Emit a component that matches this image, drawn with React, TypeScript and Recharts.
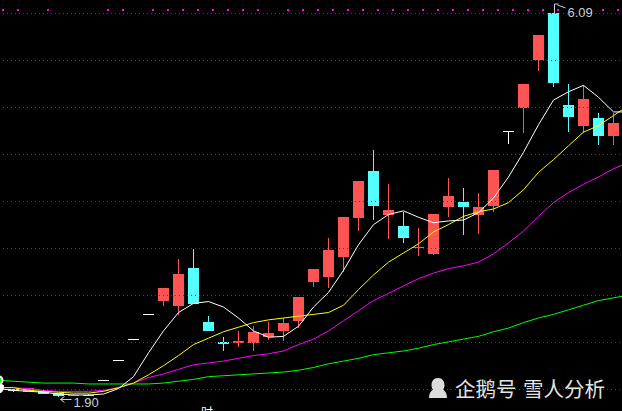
import React from 'react';
import { ComposedChart, Bar, Line, Scatter, XAxis, YAxis, ReferenceLine, ReferenceDot } from 'recharts';

const UP = '#ff5454';
const DOWN = '#54ffff';
const FLAT = '#ffffff';

// trading days, -1 is the partly hidden one at the left edge, 41 only carries the averages
const days = [-1, 0, 1, 2, 3, 4, 5, 6, 7, 8, 9, 10, 11, 12, 13, 14, 15, 16, 17, 18, 19, 20,
  21, 22, 23, 24, 25, 26, 27, 28, 29, 30, 31, 32, 33, 34, 35, 36, 37, 38, 39, 40, 41];

const opens = [2.03, 1.99, 1.95, 1.96, 1.94, 1.91, 1.92, 2.08, 2.30, 2.53, 2.80, 2.95, 2.89, 3.31,
  2.72, 2.50, 2.49, 2.49, 2.55, 2.62, 2.73, 3.15, 3.21, 3.43, 3.85, 4.37, 3.89, 3.77, 3.52, 3.46,
  3.97, 4.03, 3.89, 3.98, 4.80, 5.05, 5.58, 6.09, 5.09, 4.86, 4.94, 4.75];
const closes = [2.00, 1.96, 2.00, 1.93, 1.91, 1.92, 1.91, 2.08, 2.30, 2.53, 2.80, 3.09, 3.24, 2.91,
  2.62, 2.48, 2.51, 2.61, 2.60, 2.71, 2.99, 3.30, 3.50, 3.86, 4.26, 3.98, 3.94, 3.63, 3.54, 3.90,
  4.09, 3.97, 3.97, 4.38, 4.80, 5.32, 5.85, 5.33, 4.96, 5.15, 4.75, 4.89];
const highs = [2.03, 1.99, 2.00, 1.97, 1.94, 1.93, 1.93, 2.08, 2.30, 2.53, 2.80, 3.09, 3.40, 3.51,
  2.78, 2.55, 2.62, 2.67, 2.72, 2.76, 2.99, 3.30, 3.63, 3.86, 4.26, 4.59, 4.22, 3.92, 3.74, 3.90,
  4.29, 4.18, 4.13, 4.38, 4.80, 5.32, 5.85, 6.09, 5.32, 5.30, 5.00, 5.00];
const lows = [2.00, 1.95, 1.95, 1.93, 1.90, 1.91, 1.91, 2.08, 2.30, 2.53, 2.80, 2.89, 2.79, 2.91,
  2.62, 2.40, 2.44, 2.40, 2.52, 2.51, 2.65, 3.10, 3.09, 3.26, 3.71, 3.83, 3.62, 3.58, 3.44, 3.45,
  3.86, 3.67, 3.68, 3.92, 4.66, 4.78, 5.46, 5.28, 4.79, 4.78, 4.65, 4.65];

const ma5 = [1.99, 1.97, 1.96, 1.95, 1.93, 1.92, 1.92, 1.93, 1.99, 2.12, 2.38, 2.62, 2.82, 2.92,
  2.94, 2.88, 2.76, 2.62, 2.55, 2.56, 2.67, 2.88, 3.04, 3.28, 3.56, 3.78, 3.89, 3.93, 3.86, 3.80,
  3.82, 3.83, 3.91, 4.07, 4.30, 4.57, 4.87, 5.14, 5.23, 5.30, 5.17, 5.01, 5.01];
const ma10 = [2.00, 2.00, 1.97, 1.96, 1.95, 1.94, 1.94, 1.96, 2.00, 2.05, 2.14, 2.24, 2.35, 2.47,
  2.54, 2.61, 2.66, 2.71, 2.74, 2.76, 2.78, 2.80, 2.82, 2.90, 3.07, 3.23, 3.37, 3.47, 3.57, 3.70,
  3.78, 3.87, 3.92, 3.95, 4.02, 4.16, 4.35, 4.49, 4.64, 4.79, 4.86, 4.97, 5.08];
const ma20 = [2.00, 2.00, 1.99, 1.97, 1.96, 1.96, 1.96, 1.97, 2.00, 2.05, 2.11, 2.15, 2.20, 2.25,
  2.27, 2.29, 2.32, 2.35, 2.37, 2.40, 2.47, 2.53, 2.62, 2.73, 2.84, 2.95, 3.03, 3.11, 3.19, 3.25,
  3.30, 3.33, 3.37, 3.46, 3.58, 3.71, 3.87, 4.02, 4.13, 4.22, 4.30, 4.39, 4.46];
const ma60 = [2.08, 2.07, 2.06, 2.05, 2.05, 2.05, 2.04, 2.04, 2.04, 2.04, 2.04, 2.05, 2.07, 2.09,
  2.12, 2.13, 2.14, 2.15, 2.16, 2.17, 2.19, 2.22, 2.26, 2.29, 2.32, 2.36, 2.38, 2.40, 2.43, 2.47,
  2.50, 2.53, 2.56, 2.61, 2.65, 2.71, 2.76, 2.80, 2.85, 2.90, 2.95, 2.98, 3.01];

// days with the small magenta marker along the top
const signalDays = [-1, 0, 2, 6, 7, 9, 10, 11, 12, 13, 14, 15, 16, 18, 19, 20, 21, 22, 23, 24, 25,
  26, 27, 28, 29, 30, 31, 32, 33, 34, 35, 36, 39, 40];
const SIGNAL_LEVEL = 6.12;

const gridLevels = [6.085, 5.571, 5.058, 4.545, 4.032, 3.519, 3.006, 2.493, 1.98];
const PRICE_DOMAIN = [1.745, 6.232];

const highMark = { day: 36, price: 6.09, label: '6.09' };
const lowMark = { day: 3, price: 1.9, label: '1.90' };

const data = days.map((day, k) => ({
  day,
  open: opens[k],
  close: closes[k],
  high: highs[k],
  low: lows[k],
  range: opens[k] != null ? [lows[k], highs[k]] : null,
  ma5: ma5[k],
  ma10: ma10[k],
  ma20: ma20[k],
  ma60: ma60[k],
  signal: signalDays.includes(day) ? SIGNAL_LEVEL : null,
}));

const Candle = (props: any) => {
  const { x, y, width, height, payload } = props;
  if (!payload || payload.open == null) return null;
  const { open, close, high, low } = payload;
  const color = close > open ? UP : close < open ? DOWN : FLAT;
  const left = Math.round(x);
  const w = Math.round(width);
  const mid = left + Math.floor(w / 2);
  if (high === low || !height) {
    return <rect x={left} y={Math.round(y)} width={w} height={1} fill={color} />;
  }
  const k = height / (high - low);
  const top = Math.round(y + (high - Math.max(open, close)) * k);
  const bot = Math.round(y + (high - Math.min(open, close)) * k);
  return (
    <g>
      <rect x={mid} y={Math.round(y)} width={1} height={Math.max(1, Math.round(y + height) - Math.round(y))} fill={color} />
      <rect x={left} y={top} width={w} height={Math.max(1, bot - top)} fill={color} />
    </g>
  );
};

const SignalDot = (props: any) => {
  const { cx, cy, payload } = props;
  if (!payload || payload.signal == null || cx == null || cy == null) return null;
  return <rect x={Math.round(cx) + 3} y={Math.round(cy) - 1} width={2} height={2} fill="#ff00ff" />;
};

const markText = { fontFamily: '"Liberation Sans", Arial, sans-serif', fontSize: 13, fill: '#c8d0d8' };

const HighFlag = (props: any) => {
  const { cx, cy } = props;
  const x = Math.round(cx) + 0.5;
  return (
    <g>
      <path d={`M${x},${cy} V${cy - 9} H${x + 4} M${x + 3},${cy - 8} L${x + 11},${cy - 5}`} stroke="#c8d0d8" strokeWidth={1} fill="none" />
      <text x={x + 13} y={cy + 4} style={markText as any}>{highMark.label}</text>
    </g>
  );
};

const LowFlag = (props: any) => {
  const { cx, cy } = props;
  const x = Math.round(cx) + 0.5;
  const ay = Math.round(cy) + 2.5;
  return (
    <g>
      <path d={`M${x + 1},${ay} H${x + 12} M${x + 5},${ay - 3} L${x + 1},${ay} L${x + 5},${ay + 3}`} stroke="#c8d0d8" strokeWidth={1} fill="none" />
      <text x={x + 14} y={cy + 10} style={markText as any}>{lowMark.label}</text>
    </g>
  );
};

const Penguin = () => (
  <svg width={20} height={22} style={{ position: 'absolute', left: 428, top: 377 }}>
    <path
      d="M10,1 C5.5,1 3.5,4.5 3.5,8 C3.5,10 4,11.5 5,12.5 C2.5,14 1,17 1,21 L19,21 C19,17 17.5,14 15,12.5 C16,11.5 16.5,10 16.5,8 C16.5,4.5 14.5,1 10,1 Z"
      fill="#dcdcdc"
    />
  </svg>
);

const wmText: React.CSSProperties = {
  position: 'absolute',
  top: 377,
  fontFamily: '"Noto Sans CJK SC", sans-serif',
  fontSize: 20.5,
  lineHeight: '23px',
  color: '#e4e4e4',
  whiteSpace: 'nowrap',
};

export default function App() {
  return (
    <div style={{ position: 'fixed', left: 0, top: 0, width: 622, height: 411, overflow: 'hidden', background: '#000' }}>
      <div style={{ position: 'absolute', left: -9, top: 0 }}>
        <ComposedChart width={645} height={411} data={data} margin={{ top: 0, right: 0, bottom: 0, left: 0 }}>
          <XAxis dataKey="day" hide />
          <YAxis hide domain={PRICE_DOMAIN} allowDataOverflow />
          {gridLevels.map((v) => (
            <ReferenceLine key={v} y={v} stroke="#e0001c" strokeDasharray="1 3" shapeRendering="crispEdges" />
          ))}
          <Bar dataKey="range" barSize={11} shape={(p: any) => <Candle {...p} />} isAnimationActive={false} />
          <Line type="linear" dataKey="ma60" stroke="#00ff00" strokeWidth={1} dot={false} isAnimationActive={false} />
          <Line type="linear" dataKey="ma20" stroke="#ff00ff" strokeWidth={1} dot={false} isAnimationActive={false} />
          <Line type="linear" dataKey="ma10" stroke="#ffff00" strokeWidth={1} dot={false} isAnimationActive={false} />
          <Line type="linear" dataKey="ma5" stroke="#ffffff" strokeWidth={1} dot={false} isAnimationActive={false} />
          <Scatter dataKey="signal" shape={(p: any) => <SignalDot {...p} />} isAnimationActive={false} />
          <ReferenceDot x={highMark.day} y={highMark.price} shape={(p: any) => <HighFlag {...p} />} />
          <ReferenceDot x={lowMark.day} y={lowMark.price} shape={(p: any) => <LowFlag {...p} />} />
        </ComposedChart>
      </div>
      <Penguin />
      <div style={{ ...wmText, left: 455 }}>企鹅号</div>
      <div style={{ ...wmText, left: 523 }}>雪人分析</div>
      <div style={{ position: 'absolute', left: 201, top: 403, fontSize: 12, color: '#ffffff', fontFamily: '"Noto Sans CJK SC", sans-serif' }}>时</div>
    </div>
  );
}
